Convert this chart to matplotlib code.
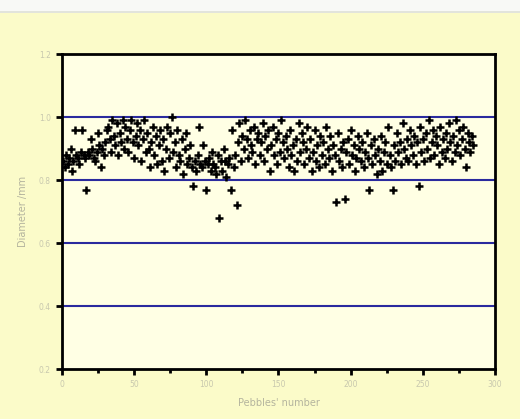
import matplotlib
matplotlib.use("Agg")
import matplotlib.pyplot as plt
from matplotlib.ticker import MultipleLocator
from matplotlib.patches import Rectangle

diameters = [
    0.86, 0.84, 0.88, 0.85, 0.87, 0.90, 0.83, 0.86, 0.96, 0.88, 0.87, 0.85, 0.89, 0.96, 0.88,
    0.87, 0.77, 0.89, 0.88, 0.93, 0.90, 0.87, 0.86, 0.89, 0.95, 0.91, 0.84, 0.90, 0.88, 0.92,
    0.96, 0.97, 0.93, 0.89, 0.99, 0.94, 0.91, 0.98, 0.88, 0.95, 0.92, 0.99, 0.90, 0.97, 0.93,
    0.89, 0.96, 0.99, 0.92, 0.87, 0.94, 0.98, 0.91, 0.96, 0.86, 0.93, 0.99, 0.89, 0.95, 0.90,
    0.84, 0.92, 0.97, 0.88, 0.94, 0.85, 0.91, 0.96, 0.86, 0.93, 0.83, 0.90, 0.97, 0.87, 0.95,
    1.00, 0.89, 0.92, 0.84, 0.96, 0.88, 0.86, 0.93, 0.82, 0.90, 0.95, 0.85, 0.87, 0.91, 0.84,
    0.78, 0.86, 0.83, 0.88, 0.97, 0.85, 0.84, 0.91, 0.86, 0.77, 0.85, 0.87, 0.83, 0.89, 0.85,
    0.84, 0.82, 0.88, 0.68, 0.86, 0.83, 0.90, 0.86, 0.81, 0.85, 0.87, 0.77, 0.96, 0.84, 0.88,
    0.72, 0.92, 0.98, 0.86, 0.94, 0.90, 0.99, 0.93, 0.87, 0.96, 0.91, 0.89, 0.97, 0.85, 0.93,
    0.95, 0.88, 0.92, 0.98, 0.86, 0.94, 0.90, 0.96, 0.83, 0.91, 0.97, 0.88, 0.93, 0.85, 0.95,
    0.89, 0.99, 0.92, 0.87, 0.94, 0.90, 0.84, 0.96, 0.88, 0.91, 0.83, 0.93, 0.86, 0.98, 0.89,
    0.95, 0.92, 0.85, 0.90, 0.97, 0.87, 0.93, 0.83, 0.89, 0.96, 0.86, 0.91, 0.84, 0.94, 0.88,
    0.92, 0.85, 0.97, 0.90, 0.87, 0.94, 0.83, 0.91, 0.88, 0.73, 0.95, 0.86, 0.90, 0.84, 0.92,
    0.74, 0.89, 0.93, 0.85, 0.96, 0.88, 0.91, 0.83, 0.87, 0.94, 0.90, 0.86, 0.92, 0.84, 0.89,
    0.95, 0.87, 0.77, 0.91, 0.85, 0.93, 0.88, 0.82, 0.90, 0.86, 0.94, 0.83, 0.89, 0.92, 0.85,
    0.97, 0.88, 0.84, 0.77, 0.91, 0.86, 0.95, 0.89, 0.92, 0.85, 0.98, 0.90, 0.87, 0.93, 0.86,
    0.96, 0.91, 0.88, 0.94, 0.85, 0.92, 0.78, 0.97, 0.89, 0.93, 0.86, 0.95, 0.90, 0.99, 0.87,
    0.92, 0.96, 0.88, 0.94, 0.91, 0.85, 0.97, 0.89, 0.93, 0.87, 0.95, 0.90, 0.98, 0.92, 0.86,
    0.94, 0.89, 0.99, 0.91, 0.96, 0.88, 0.93, 0.97, 0.90, 0.84, 0.95, 0.92, 0.89, 0.94, 0.91,
]
pebbles = list(range(1, len(diameters) + 1))
ref_lines = [0.4, 0.6, 0.8, 1.0]
x_ticks = [0, 50, 100, 150, 200, 250, 300]
y_ticks = [0.2, 0.4, 0.6, 0.8, 1.0, 1.2]

fig = plt.figure(figsize=(5.2, 4.19), dpi=100)
fig.patch.set_facecolor("#fbfbc9")
# top white strip
fig.patches.append(Rectangle((0, 0.972), 1, 0.028, transform=fig.transFigure,
                             facecolor="#f8f9f6", edgecolor="none", zorder=0))
fig.patches.append(Rectangle((0, 0.970), 1, 0.004, transform=fig.transFigure,
                             facecolor="#e2e4dc", edgecolor="none", zorder=0))

ax = fig.add_axes([0.119, 0.119, 0.833, 0.752])
ax.set_facecolor("#ffffe4")

for y in ref_lines:
    ax.axhline(y, color="#2a2a9e", lw=1.5, zorder=1)

ax.plot(pebbles, diameters, linestyle="none", marker="+", color="black",
        markersize=5.5, markeredgewidth=1.8, zorder=3)

ax.set_xlim(0, 300)
ax.set_ylim(0.2, 1.2)
ax.set_xticks(x_ticks)
ax.set_yticks(y_ticks)
ax.set_yticklabels([f"{v:.1f}" for v in y_ticks])
ax.xaxis.set_minor_locator(MultipleLocator(25))

for s in ax.spines.values():
    s.set_linewidth(2)
    s.set_color("black")

ax.tick_params(axis="both", which="major", direction="out", length=4, width=2,
               labelsize=5.5, labelcolor="#c8c8ae", color="black", pad=4)
ax.tick_params(axis="x", which="minor", direction="out", length=3, width=2, color="black")

ax.set_xlabel("Pebbles' number", fontsize=7, color="#b4b49e", labelpad=6)
ax.set_ylabel("Diameter /mm", fontsize=7, color="#b4b49e", labelpad=8)

fig.savefig("out.png", dpi=100, facecolor=fig.get_facecolor())
